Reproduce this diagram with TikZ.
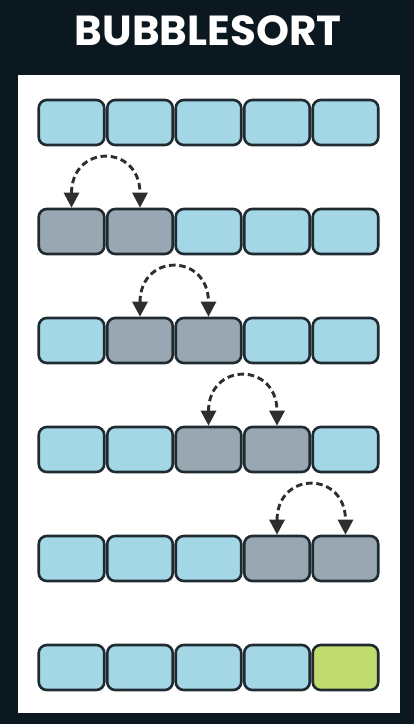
\documentclass[tikz,border=0pt]{standalone}
\usepackage{fontspec}
\setmainfont{Poppins}
\usetikzlibrary{arrows.meta}
\definecolor{bgdark}{HTML}{0C1820}
\definecolor{cellblue}{HTML}{A3D7E6}
\definecolor{cellgray}{HTML}{98A7B2}
\definecolor{cellgreen}{HTML}{C2DB6E}
\definecolor{celledge}{HTML}{1F2B31}
\definecolor{arcdark}{HTML}{2E2E2E}
\tikzset{
  cell/.style={draw=celledge, line width=2.6pt, rounded corners=8pt, minimum width=65.5pt, minimum height=45pt, inner sep=0pt},
  bluecell/.style={cell, fill=cellblue},
  graycell/.style={cell, fill=cellgray},
  greencell/.style={cell, fill=cellgreen},
  swaparc/.style={draw=arcdark, line width=2.9pt, dash pattern=on 6.5pt off 3.8pt, {Triangle[width=15pt,length=15pt]}-{Triangle[width=15pt,length=15pt]}}
}
\begin{document}
\begin{tikzpicture}[x=1pt,y=-1pt]
\useasboundingbox (0,0) rectangle (414,724);
\fill[bgdark] (0,0) rectangle (414,724);
\fill[white] (18,75) rectangle (400,713);
\node[text=white, font=\fontsize{42}{46}\selectfont\bfseries] (title) at (208,31) {BUBBLESORT};
% rows
\foreach \r/\g in {1/0, 2/1, 3/2, 4/3, 5/4, 6/0}{
  \foreach \c in {1,...,5}{
    \pgfmathtruncatemacro{\isgray}{(\g>0) && ((\c==\g) || (\c==\g+1)) ? 1 : 0}
    \ifnum\isgray=1
      \node[graycell] (c\r\c) at ({71.5+68.5*(\c-1)},{122.5+109*(\r-1)}) {};
    \else
      \ifnum\r=6 \ifnum\c=5
        \node[greencell] (c\r\c) at ({71.5+68.5*(\c-1)},{122.5+109*(\r-1)}) {};
      \else
        \node[bluecell] (c\r\c) at ({71.5+68.5*(\c-1)},{122.5+109*(\r-1)}) {};
      \fi
      \else
        \node[bluecell] (c\r\c) at ({71.5+68.5*(\c-1)},{122.5+109*(\r-1)}) {};
      \fi
    \fi
  }
}
% swap arcs
\draw[swaparc] (c21.north) .. controls +(0,-64) and +(0,-64) .. (c22.north);
\draw[swaparc] (c32.north) .. controls +(0,-64) and +(0,-64) .. (c33.north);
\draw[swaparc] (c43.north) .. controls +(0,-64) and +(0,-64) .. (c44.north);
\draw[swaparc] (c54.north) .. controls +(0,-64) and +(0,-64) .. (c55.north);
\end{tikzpicture}
\end{document}
